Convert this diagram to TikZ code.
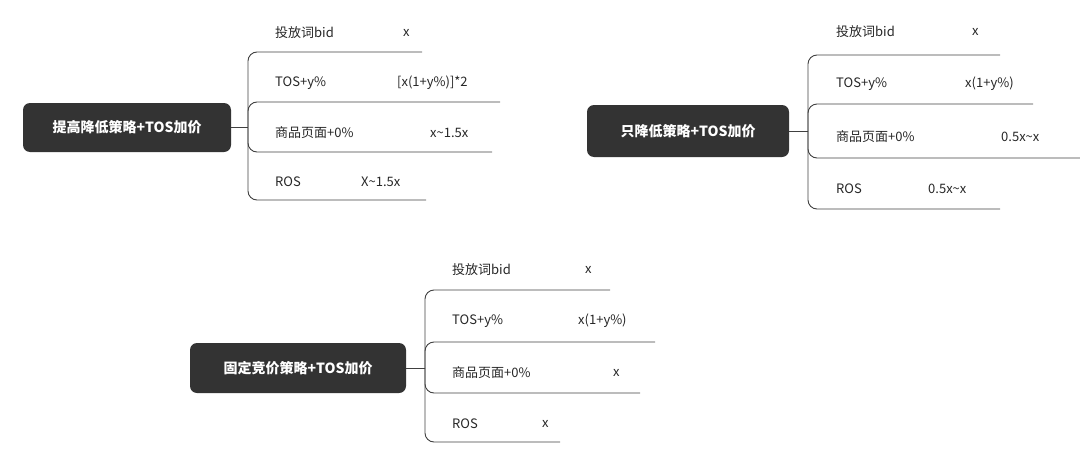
\documentclass[tikz,border=0pt]{standalone}
\usepackage{fontspec}
\setmainfont{Noto Sans CJK SC}
\begin{document}
\begin{tikzpicture}[x=1pt,y=-1pt,
  rootbox/.style={fill=black!80,text=white,rounded corners=7,font=\fontsize{14}{16}\selectfont\bfseries,inner sep=0pt},
  lbl/.style={anchor=west,font=\fontsize{13}{15}\selectfont,text=black!85,inner sep=0pt},
  br/.style={draw=black!75,line width=0.9pt,rounded corners=9}]
\useasboundingbox (0,0) rectangle (1080,458);
% diagram 1
\node[rootbox,minimum width=208,minimum height=49] (r1) at (127,127.5) {提高降低策略+TOS加价};
\coordinate (j1) at (248,127.5);
\draw[br] (r1.east) -- (j1);
\foreach \y/\e/\n in {52/422/a,102/500/b,152/492/c,200/426/d}{\coordinate (e1\n) at (\e,\y); \draw[br] (j1) |- (e1\n);}
\node[lbl] (l1a) at (275,33) {投放词bid}; \node[lbl] (v1a) at (403,33) {x};
\node[lbl] (l1b) at (275,83) {TOS+y\%}; \node[lbl] (v1b) at (397,83) {[x(1+y\%)]*2};
\node[lbl] (l1c) at (275,133) {商品页面+0\%}; \node[lbl] (v1c) at (430,133) {x\textasciitilde1.5x};
\node[lbl] (l1d) at (275,182) {ROS}; \node[lbl] (v1d) at (361,182) {X\textasciitilde1.5x};
% diagram 2
\node[rootbox,minimum width=202,minimum height=52] (r2) at (688,131) {只降低策略+TOS加价};
\coordinate (j2) at (808,131);
\draw[br] (r2.east) -- (j2);
\foreach \y/\e/\n in {55/1000/a,104/1033/b,158/1080/c,209/1000/d}{\coordinate (e2\n) at (\e,\y); \draw[br] (j2) |- (e2\n);}
\node[lbl] (l2a) at (836,32) {投放词bid}; \node[lbl] (v2a) at (972,32) {x};
\node[lbl] (l2b) at (836,84) {TOS+y\%}; \node[lbl] (v2b) at (965,84) {x(1+y\%)};
\node[lbl] (l2c) at (836,137) {商品页面+0\%}; \node[lbl] (v2c) at (1001,137) {0.5x\textasciitilde x};
\node[lbl] (l2d) at (836,189) {ROS}; \node[lbl] (v2d) at (928,189) {0.5x\textasciitilde x};
% diagram 3
\node[rootbox,minimum width=216,minimum height=50] (r3) at (298,368) {固定竞价策略+TOS加价};
\coordinate (j3) at (425,368);
\draw[br] (r3.east) -- (j3);
\foreach \y/\e/\n in {290/610/a,342/655/b,393/640/c,442/560/d}{\coordinate (e3\n) at (\e,\y); \draw[br] (j3) |- (e3\n);}
\node[lbl] (l3a) at (452,270) {投放词bid}; \node[lbl] (v3a) at (585,270) {x};
\node[lbl] (l3b) at (452,321) {TOS+y\%}; \node[lbl] (v3b) at (578,321) {x(1+y\%)};
\node[lbl] (l3c) at (452,373) {商品页面+0\%}; \node[lbl] (v3c) at (613,373) {x};
\node[lbl] (l3d) at (452,424) {ROS}; \node[lbl] (v3d) at (542,424) {x};
\end{tikzpicture}
\end{document}
